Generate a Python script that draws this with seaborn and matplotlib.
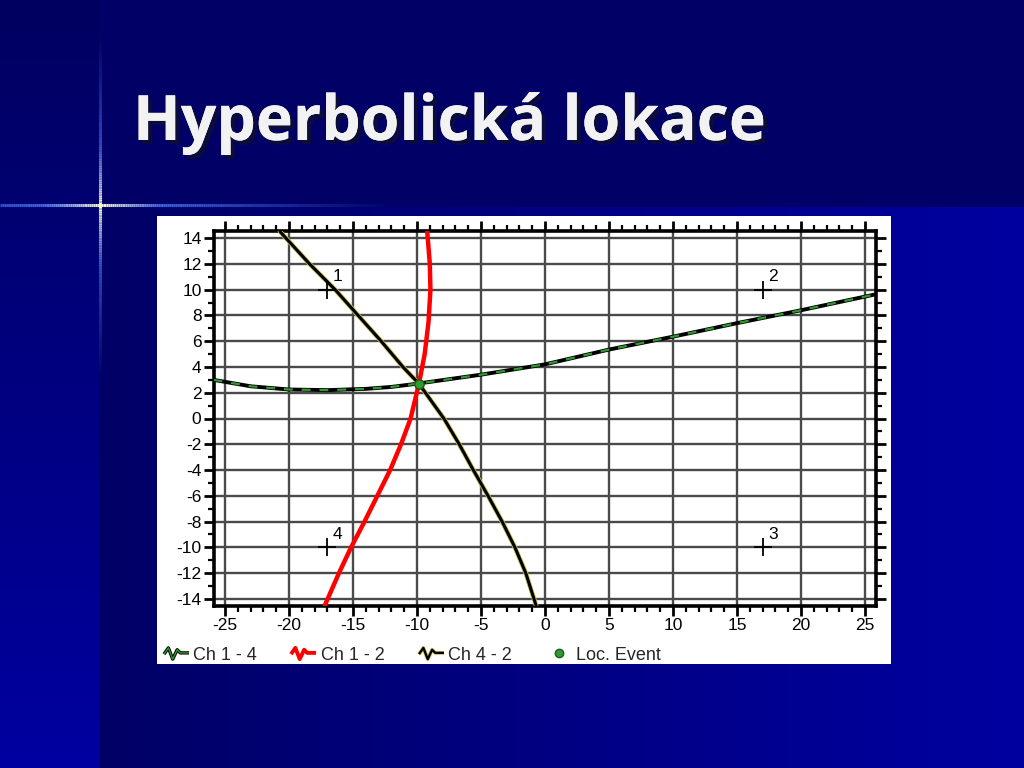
import numpy as np
import matplotlib
matplotlib.use("Agg")
import matplotlib.pyplot as plt
import seaborn as sns
import pandas as pd
from matplotlib.path import Path
from matplotlib.lines import Line2D
from matplotlib.patches import Rectangle
from matplotlib.collections import LineCollection
from matplotlib.ticker import MultipleLocator
import matplotlib.patheffects as pe

# ---------------- data ----------------
title = "Hyperbolická lokace"

ch14_x = [-25.9, -23, -20, -17, -14, -12, -10, -5, 0, 5, 10, 15, 20, 25.9]
ch14_y = [3.0, 2.5, 2.25, 2.2, 2.3, 2.45, 2.7, 3.4, 4.2, 5.35, 6.35, 7.4, 8.4, 9.65]

ch12_x = [-17.2, -16.1, -15.15, -14.1, -13.1, -12.1, -11.25, -10.5, -9.85, -9.4, -9.1, -8.95, -9.0, -9.2]
ch12_y = [-14.5, -12, -10, -8, -6, -4, -2, 0, 2.7, 5, 7.5, 10, 12, 14.5]

ch42_x = [-20.7, -18.4, -16.4, -14.6, -12.8, -11.1, -9.85, -7.9, -6.7, -5.6, -4.45, -3.35, -2.35, -1.5, -0.7]
ch42_y = [14.5, 12, 10, 8, 6, 4, 2.7, 0, -2, -4, -6, -8, -10, -12, -14.5]

event_x = [-9.85]
event_y = [2.7]

sensor_x = [-17, 17, 17, -17]
sensor_y = [10, 10, -10, -10]
sensor_labels = ["1", "2", "3", "4"]

legend_labels = ["Ch 1 - 4", "Ch 1 - 2", "Ch 4 - 2", "Loc. Event"]
x_ticks = [-25, -20, -15, -10, -5, 0, 5, 10, 15, 20, 25]
y_ticks = [14, 12, 10, 8, 6, 4, 2, 0, -2, -4, -6, -8, -10, -12, -14]

# ---------------- style ----------------
sns.set_style("white")
plt.rcParams["font.family"] = ["Liberation Sans", "DejaVu Sans"]
plt.rcParams["axes.unicode_minus"] = False

W, H = 1024, 768
fig = plt.figure(figsize=(W / 100, H / 100), dpi=100)

# ---------------- slide background ----------------
bg = fig.add_axes([0, 0, 1, 1], zorder=-10)
img = np.zeros((H, W, 3))
dark = np.array([0, 0, 102]) / 255
bright = np.array([0, 0, 160]) / 255
img[:, :] = dark
t = np.clip((np.arange(W) - 100) / (W - 100), 0, 1)[None, :, None]
img[207:, 100:] = (dark + (bright - dark) * t)[0, 100:][None, :, :]
tv = np.linspace(0, 1, H)[:, None, None]
img[:, :100] = (np.array([0, 0, 96]) / 255 + (bright - np.array([0, 0, 96]) / 255) * tv)
bg.imshow(img, extent=[0, W, H, 0], aspect="auto", interpolation="bilinear")
bg.set_xlim(0, W)
bg.set_ylim(H, 0)
bg.axis("off")

def glow(x0, y0, x1, y1, cx, cy, reach):
    n = 200
    xs = np.linspace(x0, x1, n)
    ys = np.linspace(y0, y1, n)
    segs = [[(xs[i], ys[i]), (xs[i + 1], ys[i + 1])] for i in range(n - 1)]
    d = np.hypot((xs[:-1] - cx), (ys[:-1] - cy))
    a = np.clip(1 - d / reach, 0, 1) ** 1.2
    cols = np.zeros((n - 1, 4))
    near = np.clip(1 - d / 60, 0, 1)
    cols[:, 0] = 0.3 + 0.7 * near
    cols[:, 1] = 0.5 + 0.5 * near
    cols[:, 2] = 1.0 - 0.2 * near
    cols[:, 3] = a
    lc = LineCollection(segs, colors=cols, linewidths=2.2)
    bg.add_collection(lc)

glow(100, 30, 100, 380, 100, 205, 175)
glow(0, 205, 420, 205, 100, 205, 300)

# title
fig.text(133 / W, 1 - 140 / H, title, color="#f2f2f2", fontsize=45, fontweight="bold",
         family=["Open Sans", "DejaVu Sans"], ha="left", va="baseline",
         path_effects=[pe.withSimplePatchShadow(offset=(3, -3), shadow_rgbFace="#101030", alpha=0.8),
                       pe.Normal()])

# white chart box
fig.patches.append(Rectangle((157 / W, 1 - 664 / H), 734 / W, 448 / H,
                             transform=fig.transFigure, facecolor="white",
                             edgecolor="none", zorder=-5))

# ---------------- chart ----------------
ax = fig.add_axes([214 / W, 1 - 606 / H, 662 / W, 375 / H])
ax.set_facecolor("white")

df14 = pd.DataFrame({"x": ch14_x, "y": ch14_y})
df12 = pd.DataFrame({"x": ch12_x, "y": ch12_y})
df42 = pd.DataFrame({"x": ch42_x, "y": ch42_y})

# Ch 1-4: black with green dashes
sns.lineplot(data=df14, x="x", y="y", sort=False, estimator=None, ax=ax,
             color="black", linewidth=2.8, zorder=4)
sns.lineplot(data=df14, x="x", y="y", sort=False, estimator=None, ax=ax,
             color="#2f9a2f", linewidth=1.6, zorder=5)
ax.lines[-1].set_dashes([4, 4])

# Ch 4-2: black with olive fringe
sns.lineplot(data=df42, x="x", y="y", sort=False, estimator=None, ax=ax,
             color="#c8c050", linewidth=3.4, zorder=4)
sns.lineplot(data=df42, x="x", y="y", sort=False, estimator=None, ax=ax,
             color="black", linewidth=2.2, zorder=5)

# Ch 1-2: red
sns.lineplot(data=df12, x="x", y="y", sort=False, estimator=None, ax=ax,
             color="#ff0000", linewidth=3.2, zorder=6)

# event
sns.scatterplot(x=event_x, y=event_y, ax=ax, color="#2f9a2f", edgecolor="#1a5a1a",
                s=45, linewidth=1, zorder=8)

# sensors
sns.scatterplot(x=sensor_x, y=sensor_y, ax=ax, marker="+", color="black",
                s=180, linewidth=1.3, zorder=7)
for sx, sy, lab in zip(sensor_x, sensor_y, sensor_labels):
    ax.annotate(lab, (sx, sy), xytext=(4, 4), textcoords="offset points",
                fontsize=12.5, color="black", ha="left", va="bottom", zorder=9)

ax.set_xlim(-25.86, 25.86)
ax.set_ylim(-14.55, 14.55)
ax.set_xticks(x_ticks)
ax.set_xticklabels([str(v) for v in x_ticks])
ax.set_yticks(y_ticks)
ax.set_yticklabels([str(v) for v in y_ticks])
ax.xaxis.set_minor_locator(MultipleLocator(1))
ax.yaxis.set_minor_locator(MultipleLocator(1))
ax.set_xlabel("")
ax.set_ylabel("")

ax.grid(True, which="major", color="#4a4a4a", linewidth=1.7)
ax.set_axisbelow(True)
for s in ax.spines.values():
    s.set_visible(True)
    s.set_color("black")
    s.set_linewidth(2.6)
ax.tick_params(which="major", direction="out", length=7, width=2, color="black",
               top=True, right=True, bottom=True, left=True, labelsize=12.5,
               labelcolor="black", pad=2)
ax.tick_params(which="minor", direction="out", length=4, width=1.6, color="black",
               top=True, right=True, bottom=True, left=True)

# ---------------- legend ----------------
zig = Path([(-1.0, -0.05), (-0.65, 0.45), (-0.3, -0.45), (0.05, 0.3), (0.3, 0.05), (1.0, 0.05)],
           [Path.MOVETO] + [Path.LINETO] * 5)

def zh(color, mew):
    return Line2D([], [], linestyle="none", marker=zig, markersize=18,
                  markerfacecolor="none", markeredgecolor=color, markeredgewidth=mew)

handles = [
    (zh("black", 2.4), zh("#2f9a2f", 1.0)),
    zh("#ff0000", 2.8),
    (zh("#b8b040", 2.6), zh("black", 1.6)),
    Line2D([], [], linestyle="none", marker="o", markersize=6,
           markerfacecolor="#2f9a2f", markeredgecolor="#1a5a1a"),
]
fig.legend(handles, legend_labels, loc="center left",
           bbox_to_anchor=(162 / W, 1 - 655 / H), bbox_transform=fig.transFigure,
           ncol=4, frameon=False, fontsize=13, handlelength=1.5, handletextpad=0.2,
           columnspacing=1.85, borderpad=0, borderaxespad=0)

fig.savefig("out.png", dpi=100, facecolor=fig.get_facecolor())
